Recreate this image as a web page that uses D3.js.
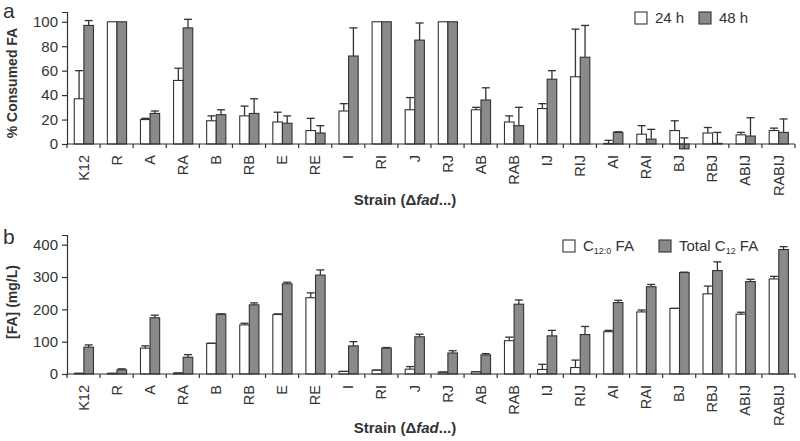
<!DOCTYPE html>
<html>
<head>
<meta charset="utf-8">
<title>FA consumption and production</title>
<style>
  body { margin: 0; background: #fff; }
  svg { display: block; font-family: "Liberation Sans", Arial, sans-serif; }
</style>
</head>
<body>
<script src="https://d3js.org/d3.v7.min.js"></script>
<script>
// strains (delta fad...)
var strains = ["K12","R","A","RA","B","RB","E","RE","I","RI","J","RJ","AB","RAB","IJ","RIJ","AI","RAI","BJ","RBJ","ABIJ","RABIJ"];

// panel a: % consumed FA
var consumed24    = [37,100,20,52,19,23,18,11,27,100,28,100,28,18,29,55,0.5,8,11,9,7.5,11];
var consumed24Err = [23,0,1,10,4,8,8,10,6,0,10,0,2,5,4,39,2.5,7,8,4.5,2,2];
var consumed48    = [97,100,25,95,24,25,17,9,72,100,85,100,36,15,53,71,9.5,4,-4,0.5,6.5,9.5];
var consumed48Err = [4,0,2,7,4,12,6,6,23,0,14,0,10,15,7,26,0.5,8,9,9,15,11];
var ticksA = [0,20,40,60,80,100];

// panel b: [FA] mg/L
var c120    = [2,2,80,3,95,152,184,236,8,12,15,6,7,103,14,20,131,192,203,248,185,294];
var c120Err = [0,0,7,0,0,5,2,15,0,0,8,0,0,11,16,23,4,6,0,24,6,8];
var cTotal    = [83,13,174,52,185,214,279,306,87,80,115,65,59,216,118,122,221,270,314,320,286,385];
var cTotalErr = [7,3,8,8,1,6,5,16,13,2,8,7,4,13,17,25,7,7,1,27,7,9];
var ticksB = [0,100,200,300,400];

var ink = "#333";
var grayFill = "#8a8a8a";

var svg = d3.select("body").append("svg")
    .attr("width", 800)
    .attr("height", 441);

var x0 = d3.scaleBand().domain(strains).range([67, 795]).padding(0);
var bw = x0.bandwidth();
var x1 = d3.scaleBand().domain([0, 1]).range([bw * 0.22, bw * 0.8]).padding(0);

function drawPanel(opt) {
  var y = d3.scaleLinear().domain(opt.domain).range([opt.bottom, opt.top]);
  var g = svg.append("g");

  var rows = strains.map(function(s, i) {
    return [
      {s: s, k: 0, v: opt.v0[i], e: opt.e0[i]},
      {s: s, k: 1, v: opt.v1[i], e: opt.e1[i]}
    ];
  });
  var bars = rows.reduce(function(a, r) { return a.concat(r); }, []);

  // bars
  g.selectAll("rect.bar").data(bars).enter().append("rect")
    .attr("class", "bar")
    .attr("x", function(d) { return x0(d.s) + x1(d.k); })
    .attr("width", x1.bandwidth())
    .attr("y", function(d) { return Math.min(y(d.v), y(0)); })
    .attr("height", function(d) { return Math.abs(y(0) - y(d.v)); })
    .attr("fill", function(d) { return d.k ? grayFill : "#fff"; })
    .attr("stroke", ink)
    .attr("stroke-width", 1.1);

  // error bars (upper only)
  var eb = g.selectAll("g.err").data(bars).enter().append("g")
    .attr("class", "err")
    .attr("stroke", ink).attr("stroke-width", 1.3);
  eb.append("line")
    .attr("x1", function(d) { return x0(d.s) + x1(d.k) + x1.bandwidth() / 2; })
    .attr("x2", function(d) { return x0(d.s) + x1(d.k) + x1.bandwidth() / 2; })
    .attr("y1", function(d) { return y(d.v); })
    .attr("y2", function(d) { return y(d.v + d.e); });
  eb.filter(function(d) { return d.e > 0 || opt.capAll; }).append("line")
    .attr("x1", function(d) { return x0(d.s) + x1(d.k) + x1.bandwidth() / 2 - 4; })
    .attr("x2", function(d) { return x0(d.s) + x1(d.k) + x1.bandwidth() / 2 + 4; })
    .attr("y1", function(d) { return y(d.v + d.e); })
    .attr("y2", function(d) { return y(d.v + d.e); });

  // y axis
  var ya = g.append("g")
    .attr("transform", "translate(67,0)")
    .call(d3.axisLeft(y).tickValues(opt.ticks).tickSize(5).tickPadding(4));
  ya.select(".domain").attr("stroke", ink).attr("stroke-width", 1.2);
  ya.selectAll(".tick line").attr("stroke", ink).attr("stroke-width", 1.2);
  ya.selectAll("text").attr("font-size", 15).attr("fill", "#333")
    .attr("font-family", "'Liberation Sans', Arial, sans-serif");

  // x axis line with boundary ticks
  var xa = g.append("g").attr("stroke", ink).attr("stroke-width", 1.2);
  xa.append("line").attr("x1", 67).attr("x2", 795)
    .attr("y1", y(0)).attr("y2", y(0));
  xa.selectAll("line.xt").data(strains.concat(["end"])).enter().append("line")
    .attr("class", "xt")
    .attr("x1", function(d, i) { return 67 + i * bw; })
    .attr("x2", function(d, i) { return 67 + i * bw; })
    .attr("y1", y(0)).attr("y2", y(0) + 4);

  // strain labels, rotated
  g.selectAll("text.xl").data(strains).enter().append("text")
    .attr("class", "xl")
    .attr("transform", function(d) {
      return "translate(" + (x0(d) + bw / 2) + "," + (y(0) + 11) + ") rotate(-90)";
    })
    .attr("text-anchor", "end")
    .attr("dy", "0.35em")
    .attr("font-size", 14.5)
    .attr("fill", "#333")
    .text(function(d) { return d; });

  // axis titles
  g.append("text")
    .attr("transform", "translate(17," + opt.titleY + ") rotate(-90)")
    .attr("text-anchor", "middle")
    .attr("font-size", 14).attr("font-weight", "bold").attr("fill", "#333")
    .text(opt.yTitle);

  var st = g.append("text")
    .attr("x", 405).attr("y", opt.strainY)
    .attr("text-anchor", "middle")
    .attr("font-family", "'Liberation Sans Narrow', 'Arial Narrow', 'Liberation Sans', sans-serif")
    .attr("font-size", 15).attr("font-weight", "bold").attr("fill", "#333");
  st.append("tspan").text("Strain (\u0394");
  st.append("tspan").attr("font-style", "italic").text("fad");
  st.append("tspan").text("...)");

  // panel letter
  g.append("text").attr("x", 3).attr("y", opt.letterY)
    .attr("font-size", 21).attr("fill", "#333").text(opt.letter);

  return y;
}

drawPanel({
  v0: consumed24, e0: consumed24Err, v1: consumed48, e1: consumed48Err,
  domain: [0, 108], bottom: 144, top: 12, ticks: ticksA,
  yTitle: "% Consumed FA", titleY: 83, strainY: 205, letter: "a", letterY: 18
});

drawPanel({
  v0: c120, e0: c120Err, v1: cTotal, e1: cTotalErr,
  domain: [0, 430], bottom: 374, top: 235, ticks: ticksB,
  yTitle: "[FA] (mg/L)", titleY: 302, strainY: 433, letter: "b", letterY: 244, capAll: true
});

// legends
function legend(x, y, items) {
  var lg = svg.append("g").attr("transform", "translate(" + x + "," + y + ")");
  items.forEach(function(it) {
    lg.append("rect").attr("x", it.dx).attr("y", 0).attr("width", 12).attr("height", 12)
      .attr("fill", it.fill).attr("stroke", ink).attr("stroke-width", 1.1);
    var t = lg.append("text").attr("x", it.dx + 20).attr("y", 11)
      .attr("font-size", 15).attr("fill", "#333");
    it.parts.forEach(function(p) {
      var ts = t.append("tspan").text(p[0]);
      if (p[1] === "sub") ts.attr("font-size", 9).attr("dy", 3);
      if (p[1] === "back") ts.attr("dy", -3);
    });
  });
}

legend(635, 12, [
  {dx: 0, fill: "#fff", parts: [["24 h"]]},
  {dx: 64, fill: grayFill, parts: [["48 h"]]}
]);

legend(563, 240, [
  {dx: 0, fill: "#fff", parts: [["C"], ["12:0", "sub"], [" FA", "back"]]},
  {dx: 96, fill: grayFill, parts: [["Total C"], ["12", "sub"], [" FA", "back"]]}
]);
</script>
</body>
</html>
